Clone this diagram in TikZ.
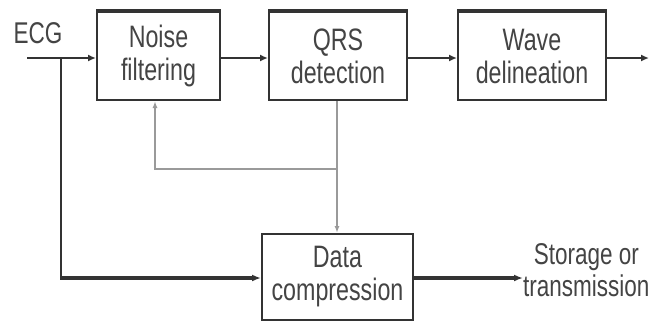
\documentclass[tikz,border=0pt]{standalone}
\usepackage{fontspec}
\setmainfont{Liberation Sans}[FakeStretch=0.75]
\usetikzlibrary{arrows.meta}
\definecolor{boxline}{HTML}{333333}
\definecolor{ink}{HTML}{444444}
\definecolor{fb}{HTML}{9A9A9A}
\tikzset{
  blockbox/.style={draw=boxline, line width=2pt, fill=white, minimum height=88pt,
    align=center, text=ink, font=\fontsize{31}{33}\selectfont, inner sep=0pt},
  label/.style={text=ink, font=\fontsize{30}{32}\selectfont, align=center, inner sep=0pt},
  flow/.style={draw=boxline, line width=2pt, -{Latex[length=8pt,width=7pt]}},
  heavy/.style={draw=boxline, line width=3.5pt, -{Latex[length=9pt,width=7pt]}},
  feedback/.style={draw=fb, line width=1.5pt, -{Latex[length=7pt,width=5pt]}},
  topedge/.style={draw=boxline, line width=3.5pt}
}
\begin{document}
\begin{tikzpicture}[x=1pt, y=-1pt]
\useasboundingbox (0,0) rectangle (650,322);
\fill[white] (0,0) rectangle (650,322);

% processing chain
\node[blockbox, minimum width=123pt] (noise) at (158.5,56) {Noise\\filtering};
\node[blockbox, minimum width=138pt] (qrs) at (338,56) {QRS\\detection};
\node[blockbox, minimum width=148pt] (wave) at (532,56) {Wave\\delineation};
\node[blockbox, minimum width=151pt, minimum height=86pt] (data) at (337.5,277) {Data\\compression};

% heavier top edges of the upper blocks
\foreach \b in {noise,qrs,wave}
  \draw[topedge] (\b.north west) -- (\b.north east);

% labels
\node[label] (ecg) at (38,33) {ECG};
\node[label, anchor=west] (store) at (523,270) {Storage or\\transmission};

% signal path
\coordinate (in) at (27,58);
\coordinate (split) at (61,58);
\coordinate (down) at (61,278);
\coordinate (out) at (649,58);
\coordinate (tee) at (337,169);
\coordinate (back) at (155,169);

\draw[flow] (in) -- (noise.west |- in);
\draw[flow] (noise.east |- in) -- (qrs.west |- in);
\draw[flow] (qrs.east |- in) -- (wave.west |- in);
\draw[flow] (wave.east |- in) -- (out);

% raw ECG to compression
\draw[draw=boxline, line width=2pt] (split) -- (down);
\draw[heavy] ([xshift=-1pt]down) -- (data.west |- down);
\draw[heavy] (data.east |- down) -- (store.west |- down);

% QRS information feedback
\draw[feedback] (qrs.south -| tee) -- (data.north -| tee);
\draw[feedback] (tee) -- (back) -- (noise.south -| back);
\end{tikzpicture}
\end{document}
